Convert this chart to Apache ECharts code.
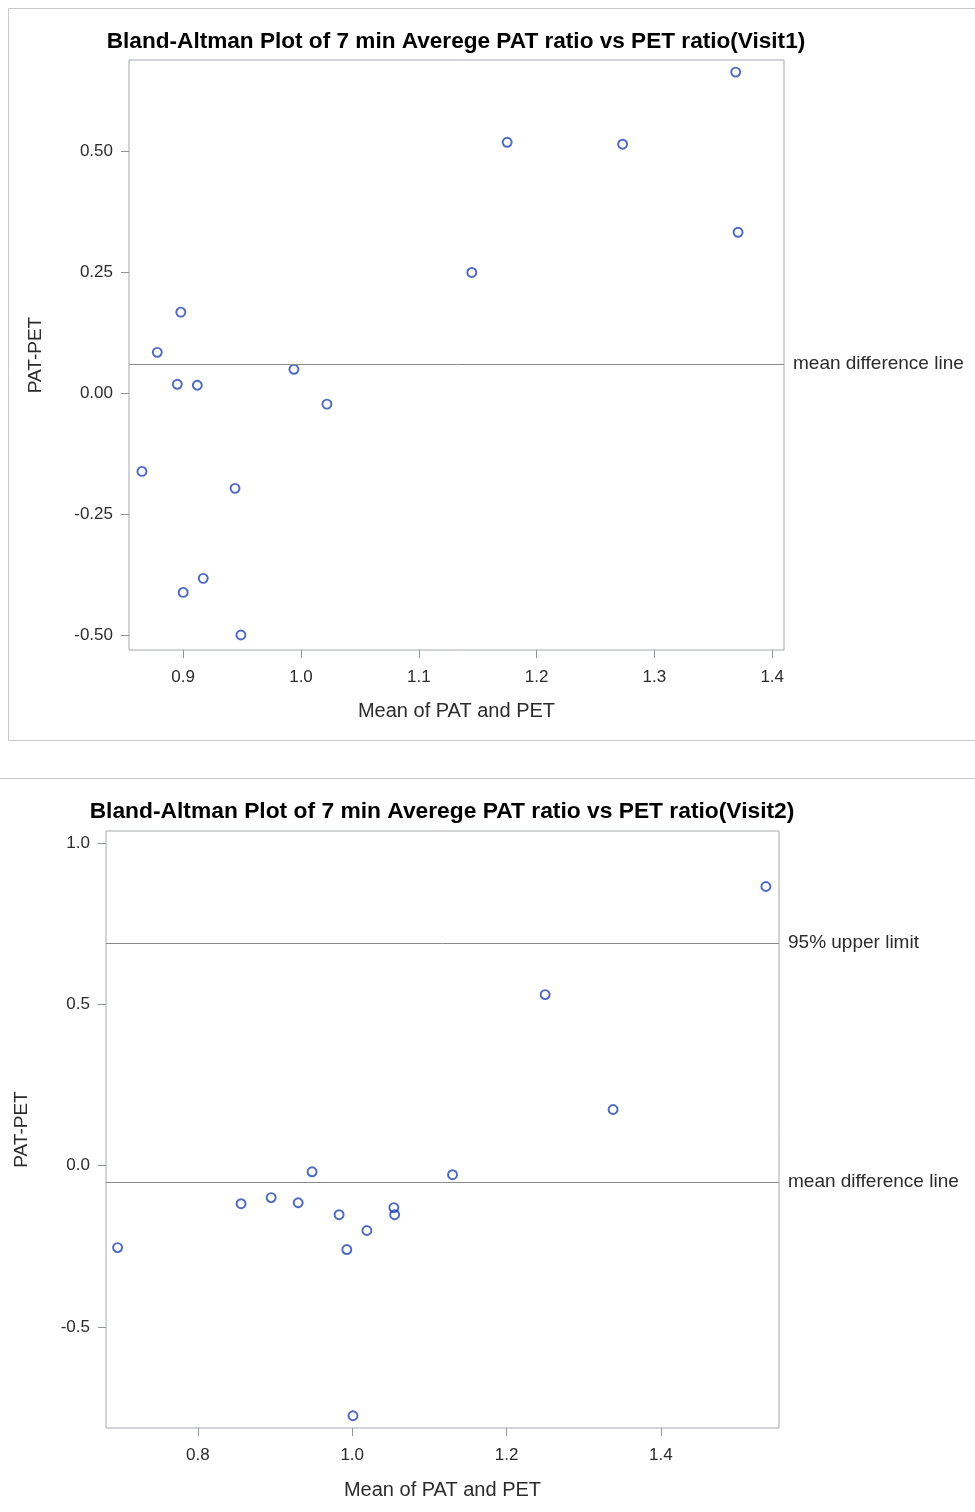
<!DOCTYPE html>
<html>
<head>
<meta charset="utf-8">
<script src="https://cdn.jsdelivr.net/npm/echarts@6/dist/echarts.min.js"></script>
<style>
html,body{margin:0;padding:0;background:#fff;}
#chart{width:975px;height:1512px;}
</style>
</head>
<body>
<div id="chart"></div>
<script>
// ---- Visit 1 data ----
const title1 = 'Bland-Altman Plot of 7 min Averege PAT ratio vs PET ratio(Visit1)';
const mean1 = [1.369, 1.175, 1.273, 1.371, 1.145, 0.898, 0.878, 0.895, 0.912, 0.994, 1.022, 0.865, 0.944, 0.917, 0.900, 0.949];
const diff1 = [0.663, 0.518, 0.514, 0.332, 0.249, 0.167, 0.084, 0.018, 0.016, 0.049, -0.023, -0.162, -0.197, -0.383, -0.412, -0.500];
const meanDiffLine1 = 0.059;
const xTicks1 = [0.9, 1.0, 1.1, 1.2, 1.3, 1.4];
const yTicks1 = [-0.50, -0.25, 0.00, 0.25, 0.50];

// ---- Visit 2 data ----
const title2 = 'Bland-Altman Plot of 7 min Averege PAT ratio vs PET ratio(Visit2)';
const mean2 = [1.536, 1.250, 1.338, 0.948, 1.130, 0.856, 0.895, 0.930, 0.983, 1.054, 1.055, 1.019, 0.993, 0.696, 1.001];
const diff2 = [0.865, 0.530, 0.174, -0.019, -0.028, -0.118, -0.099, -0.115, -0.152, -0.130, -0.152, -0.201, -0.260, -0.254, -0.775];
const meanDiffLine2 = -0.053;
const upperLimit2 = 0.688;
const xTicks2 = [0.8, 1.0, 1.2, 1.4];
const yTicks2 = [-0.5, 0.0, 0.5, 1.0];

const xName = 'Mean of PAT and PET';
const yName = 'PAT-PET';

const FONT = '"Liberation Sans", Arial, Helvetica, sans-serif';
const FRAME = '#a4a9ae';
const TICK = '#8f959b';
const REF = '#8a8a8a';
const MARK = '#2143b0';
const TXT = '#2b2b2b';

function pairs(xs, ys){ return xs.map((x,i)=>[x, ys[i]]); }

function xAxisOpt(gi, min, max, ticks, nameGap){
  return {
    type:'value', gridIndex:gi, min:min, max:max, position:'bottom',
    name:xName, nameLocation:'middle', nameGap:nameGap,
    nameTextStyle:{color:TXT, fontSize:20, fontFamily:FONT},
    axisLine:{show:false, onZero:false},
    axisTick:{show:true, length:8, lineStyle:{color:TICK}, customValues:ticks},
    axisLabel:{color:TXT, fontSize:17, fontFamily:FONT, margin:19, customValues:ticks,
      formatter:v=>v.toFixed(1)},
    splitLine:{show:false}
  };
}
function yAxisOpt(gi, min, max, ticks, dec, nameGap){
  return {
    type:'value', gridIndex:gi, min:min, max:max, position:'left',
    name:yName, nameLocation:'middle', nameGap:nameGap, nameRotate:90,
    nameTextStyle:{color:TXT, fontSize:19, fontFamily:FONT},
    axisLine:{show:false, onZero:false},
    axisTick:{show:true, length:8, lineStyle:{color:TICK}, customValues:ticks},
    axisLabel:{color:TXT, fontSize:17, fontFamily:FONT, margin:16, customValues:ticks,
      formatter:v=>v.toFixed(dec)},
    splitLine:{show:false}
  };
}
function refLine(y, text){
  return {
    yAxis:y,
    lineStyle:{color:REF, type:'solid', width:1},
    label:{show:true, position:'end', formatter:text, color:TXT, fontSize:19, fontFamily:FONT, distance:9}
  };
}

const chart = echarts.init(document.getElementById('chart'), null, {renderer:'canvas'});
chart.setOption({
  animation:false,
  backgroundColor:'#ffffff',
  graphic:[
    {type:'rect', shape:{x:8.5, y:8.5, width:1000, height:732}, style:{fill:'none', stroke:'#c9c9c9', lineWidth:1}, silent:true},
    {type:'rect', shape:{x:-20, y:778.5, width:1100, height:900}, style:{fill:'none', stroke:'#c9c9c9', lineWidth:1}, silent:true}
  ],
  title:[
    {text:title1, left:451, top:25, textAlign:'center',
      textStyle:{fontSize:22.6, fontWeight:'bold', color:'#000', fontFamily:FONT}},
    {text:title2, left:437, top:795, textAlign:'center',
      textStyle:{fontSize:22.8, fontWeight:'bold', color:'#000', fontFamily:FONT}}
  ],
  grid:[
    {left:129, top:60, width:655, height:590, show:true, borderColor:FRAME, borderWidth:1, backgroundColor:'transparent'},
    {left:106, top:831, width:673, height:597, show:true, borderColor:FRAME, borderWidth:1, backgroundColor:'transparent'}
  ],
  xAxis:[
    xAxisOpt(0, 0.854, 1.410, xTicks1, 51),
    xAxisOpt(1, 0.681, 1.553, xTicks2, 52)
  ],
  yAxis:[
    yAxisOpt(0, -0.531, 0.688, yTicks1, 2, 84),
    yAxisOpt(1, -0.813, 1.037, yTicks2, 1, 75)
  ],
  series:[
    {
      type:'scatter', xAxisIndex:0, yAxisIndex:0, data:pairs(mean1, diff1),
      symbol:'circle', symbolSize:9,
      itemStyle:{color:'rgba(0,0,0,0)', borderColor:MARK, borderWidth:1.9},
      markLine:{silent:true, symbol:['none','none'], animation:false,
        data:[refLine(meanDiffLine1, 'mean difference line')]}
    },
    {
      type:'scatter', xAxisIndex:1, yAxisIndex:1, data:pairs(mean2, diff2),
      symbol:'circle', symbolSize:9,
      itemStyle:{color:'rgba(0,0,0,0)', borderColor:MARK, borderWidth:1.9},
      markLine:{silent:true, symbol:['none','none'], animation:false,
        data:[refLine(upperLimit2, '95% upper limit'), refLine(meanDiffLine2, 'mean difference line')]}
    }
  ]
});
</script>
</body>
</html>
